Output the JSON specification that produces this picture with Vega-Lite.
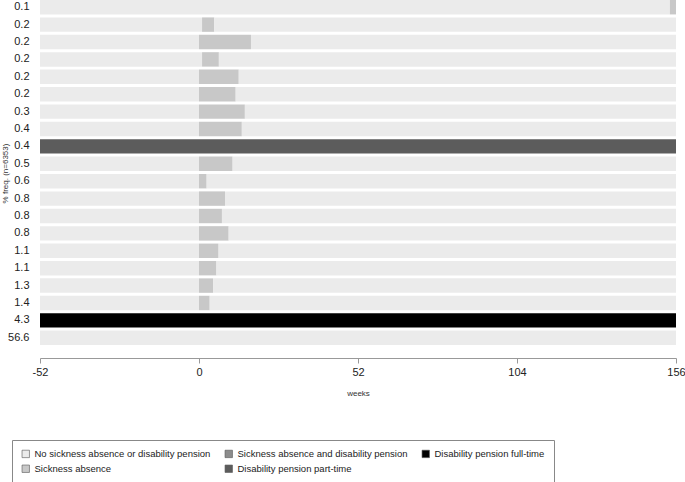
{
  "$schema": "https://vega.github.io/schema/vega-lite/v6.json",
  "autosize": "none",
  "width": 636,
  "height": 345,
  "padding": {"left": 40, "top": 0, "right": 9, "bottom": 137},
  "config": {
    "view": {"stroke": null},
    "font": "Liberation Sans",
    "background": "white"
  },
  "data": {
    "values": [
      {"row": 1, "state": "No sickness absence or disability pension", "start": -52, "end": 154},
      {"row": 1, "state": "Sickness absence", "start": 154, "end": 156},
      {"row": 2, "state": "No sickness absence or disability pension", "start": -52, "end": 1},
      {"row": 2, "state": "Sickness absence", "start": 1, "end": 5},
      {"row": 2, "state": "No sickness absence or disability pension", "start": 5, "end": 156},
      {"row": 3, "state": "No sickness absence or disability pension", "start": -52, "end": 0},
      {"row": 3, "state": "Sickness absence", "start": 0, "end": 17},
      {"row": 3, "state": "No sickness absence or disability pension", "start": 17, "end": 156},
      {"row": 4, "state": "No sickness absence or disability pension", "start": -52, "end": 1},
      {"row": 4, "state": "Sickness absence", "start": 1, "end": 6.5},
      {"row": 4, "state": "No sickness absence or disability pension", "start": 6.5, "end": 156},
      {"row": 5, "state": "No sickness absence or disability pension", "start": -52, "end": 0},
      {"row": 5, "state": "Sickness absence", "start": 0, "end": 13},
      {"row": 5, "state": "No sickness absence or disability pension", "start": 13, "end": 156},
      {"row": 6, "state": "No sickness absence or disability pension", "start": -52, "end": 0},
      {"row": 6, "state": "Sickness absence", "start": 0, "end": 12},
      {"row": 6, "state": "No sickness absence or disability pension", "start": 12, "end": 156},
      {"row": 7, "state": "No sickness absence or disability pension", "start": -52, "end": 0},
      {"row": 7, "state": "Sickness absence", "start": 0, "end": 15},
      {"row": 7, "state": "No sickness absence or disability pension", "start": 15, "end": 156},
      {"row": 8, "state": "No sickness absence or disability pension", "start": -52, "end": 0},
      {"row": 8, "state": "Sickness absence", "start": 0, "end": 14},
      {"row": 8, "state": "No sickness absence or disability pension", "start": 14, "end": 156},
      {"row": 9, "state": "Disability pension part-time", "start": -52, "end": 156},
      {"row": 10, "state": "No sickness absence or disability pension", "start": -52, "end": 0},
      {"row": 10, "state": "Sickness absence", "start": 0, "end": 11},
      {"row": 10, "state": "No sickness absence or disability pension", "start": 11, "end": 156},
      {"row": 11, "state": "No sickness absence or disability pension", "start": -52, "end": 0},
      {"row": 11, "state": "Sickness absence", "start": 0, "end": 2.5},
      {"row": 11, "state": "No sickness absence or disability pension", "start": 2.5, "end": 156},
      {"row": 12, "state": "No sickness absence or disability pension", "start": -52, "end": 0},
      {"row": 12, "state": "Sickness absence", "start": 0, "end": 8.5},
      {"row": 12, "state": "No sickness absence or disability pension", "start": 8.5, "end": 156},
      {"row": 13, "state": "No sickness absence or disability pension", "start": -52, "end": 0},
      {"row": 13, "state": "Sickness absence", "start": 0, "end": 7.5},
      {"row": 13, "state": "No sickness absence or disability pension", "start": 7.5, "end": 156},
      {"row": 14, "state": "No sickness absence or disability pension", "start": -52, "end": 0},
      {"row": 14, "state": "Sickness absence", "start": 0, "end": 9.7},
      {"row": 14, "state": "No sickness absence or disability pension", "start": 9.7, "end": 156},
      {"row": 15, "state": "No sickness absence or disability pension", "start": -52, "end": 0},
      {"row": 15, "state": "Sickness absence", "start": 0, "end": 6.4},
      {"row": 15, "state": "No sickness absence or disability pension", "start": 6.4, "end": 156},
      {"row": 16, "state": "No sickness absence or disability pension", "start": -52, "end": 0},
      {"row": 16, "state": "Sickness absence", "start": 0, "end": 5.7},
      {"row": 16, "state": "No sickness absence or disability pension", "start": 5.7, "end": 156},
      {"row": 17, "state": "No sickness absence or disability pension", "start": -52, "end": 0},
      {"row": 17, "state": "Sickness absence", "start": 0, "end": 4.6},
      {"row": 17, "state": "No sickness absence or disability pension", "start": 4.6, "end": 156},
      {"row": 18, "state": "No sickness absence or disability pension", "start": -52, "end": 0},
      {"row": 18, "state": "Sickness absence", "start": 0, "end": 3.5},
      {"row": 18, "state": "No sickness absence or disability pension", "start": 3.5, "end": 156},
      {"row": 19, "state": "Disability pension full-time", "start": -52, "end": 156},
      {"row": 20, "state": "No sickness absence or disability pension", "start": -52, "end": 156}
    ]
  },
  "mark": {"type": "bar", "cornerRadius": 0},
  "encoding": {
    "y": {
      "field": "row",
      "type": "ordinal",
      "sort": "ascending",
      "scale": {"paddingInner": 0.17, "paddingOuter": 0},
      "axis": {
        "title": "% freq. (n=6353)",
        "titleFontSize": 8,
        "titleFontWeight": "normal",
        "titleColor": "#333333",
        "titleX": -35,
        "titleY": 173,
        "titleAngle": -90,
        "titleAlign": "center",
        "titleBaseline": "middle",
        "domain": false,
        "ticks": false,
        "labelPadding": 11,
        "labelFontSize": 11,
        "labelColor": "#222222",
        "labelExpr": "['0.1','0.2','0.2','0.2','0.2','0.2','0.3','0.4','0.4','0.5','0.6','0.8','0.8','0.8','1.1','1.1','1.3','1.4','4.3','56.6'][datum.value-1]"
      }
    },
    "x": {
      "field": "start",
      "type": "quantitative",
      "scale": {"domain": [-52, 156], "nice": false, "zero": false},
      "axis": {
        "title": "weeks",
        "titleFontSize": 8,
        "titleFontWeight": "normal",
        "titleColor": "#333333",
        "titlePadding": 12,
        "values": [-52, 0, 52, 104, 156],
        "labelExpr": "datum.value + ''",
        "offset": 13,
        "grid": false,
        "domainColor": "#999999",
        "tickColor": "#999999",
        "tickSize": 5,
        "labelPadding": 3,
        "labelFontSize": 11,
        "labelColor": "#222222",
        "labelFlush": false
      }
    },
    "x2": {"field": "end"},
    "color": {
      "field": "state",
      "type": "nominal",
      "scale": {
        "domain": [
          "No sickness absence or disability pension",
          "Sickness absence and disability pension",
          "Disability pension full-time",
          "Sickness absence",
          "Disability pension part-time"
        ],
        "range": ["#ebebeb", "#8c8c8c", "#000000", "#c8c8c8", "#5c5c5c"]
      },
      "legend": {
        "title": null,
        "orient": "none",
        "legendX": -28,
        "legendY": 440,
        "direction": "horizontal",
        "columns": 3,
        "columnPadding": 12,
        "rowPadding": 4,
        "padding": 9,
        "strokeColor": "#888888",
        "symbolType": "square",
        "symbolSize": 55,
        "symbolStrokeColor": "#555555",
        "symbolStrokeWidth": 0.6,
        "labelFont": "Liberation Sans",
        "labelFontSize": 9.5,
        "labelColor": "#222222",
        "labelLimit": 400
      }
    }
  }
}
